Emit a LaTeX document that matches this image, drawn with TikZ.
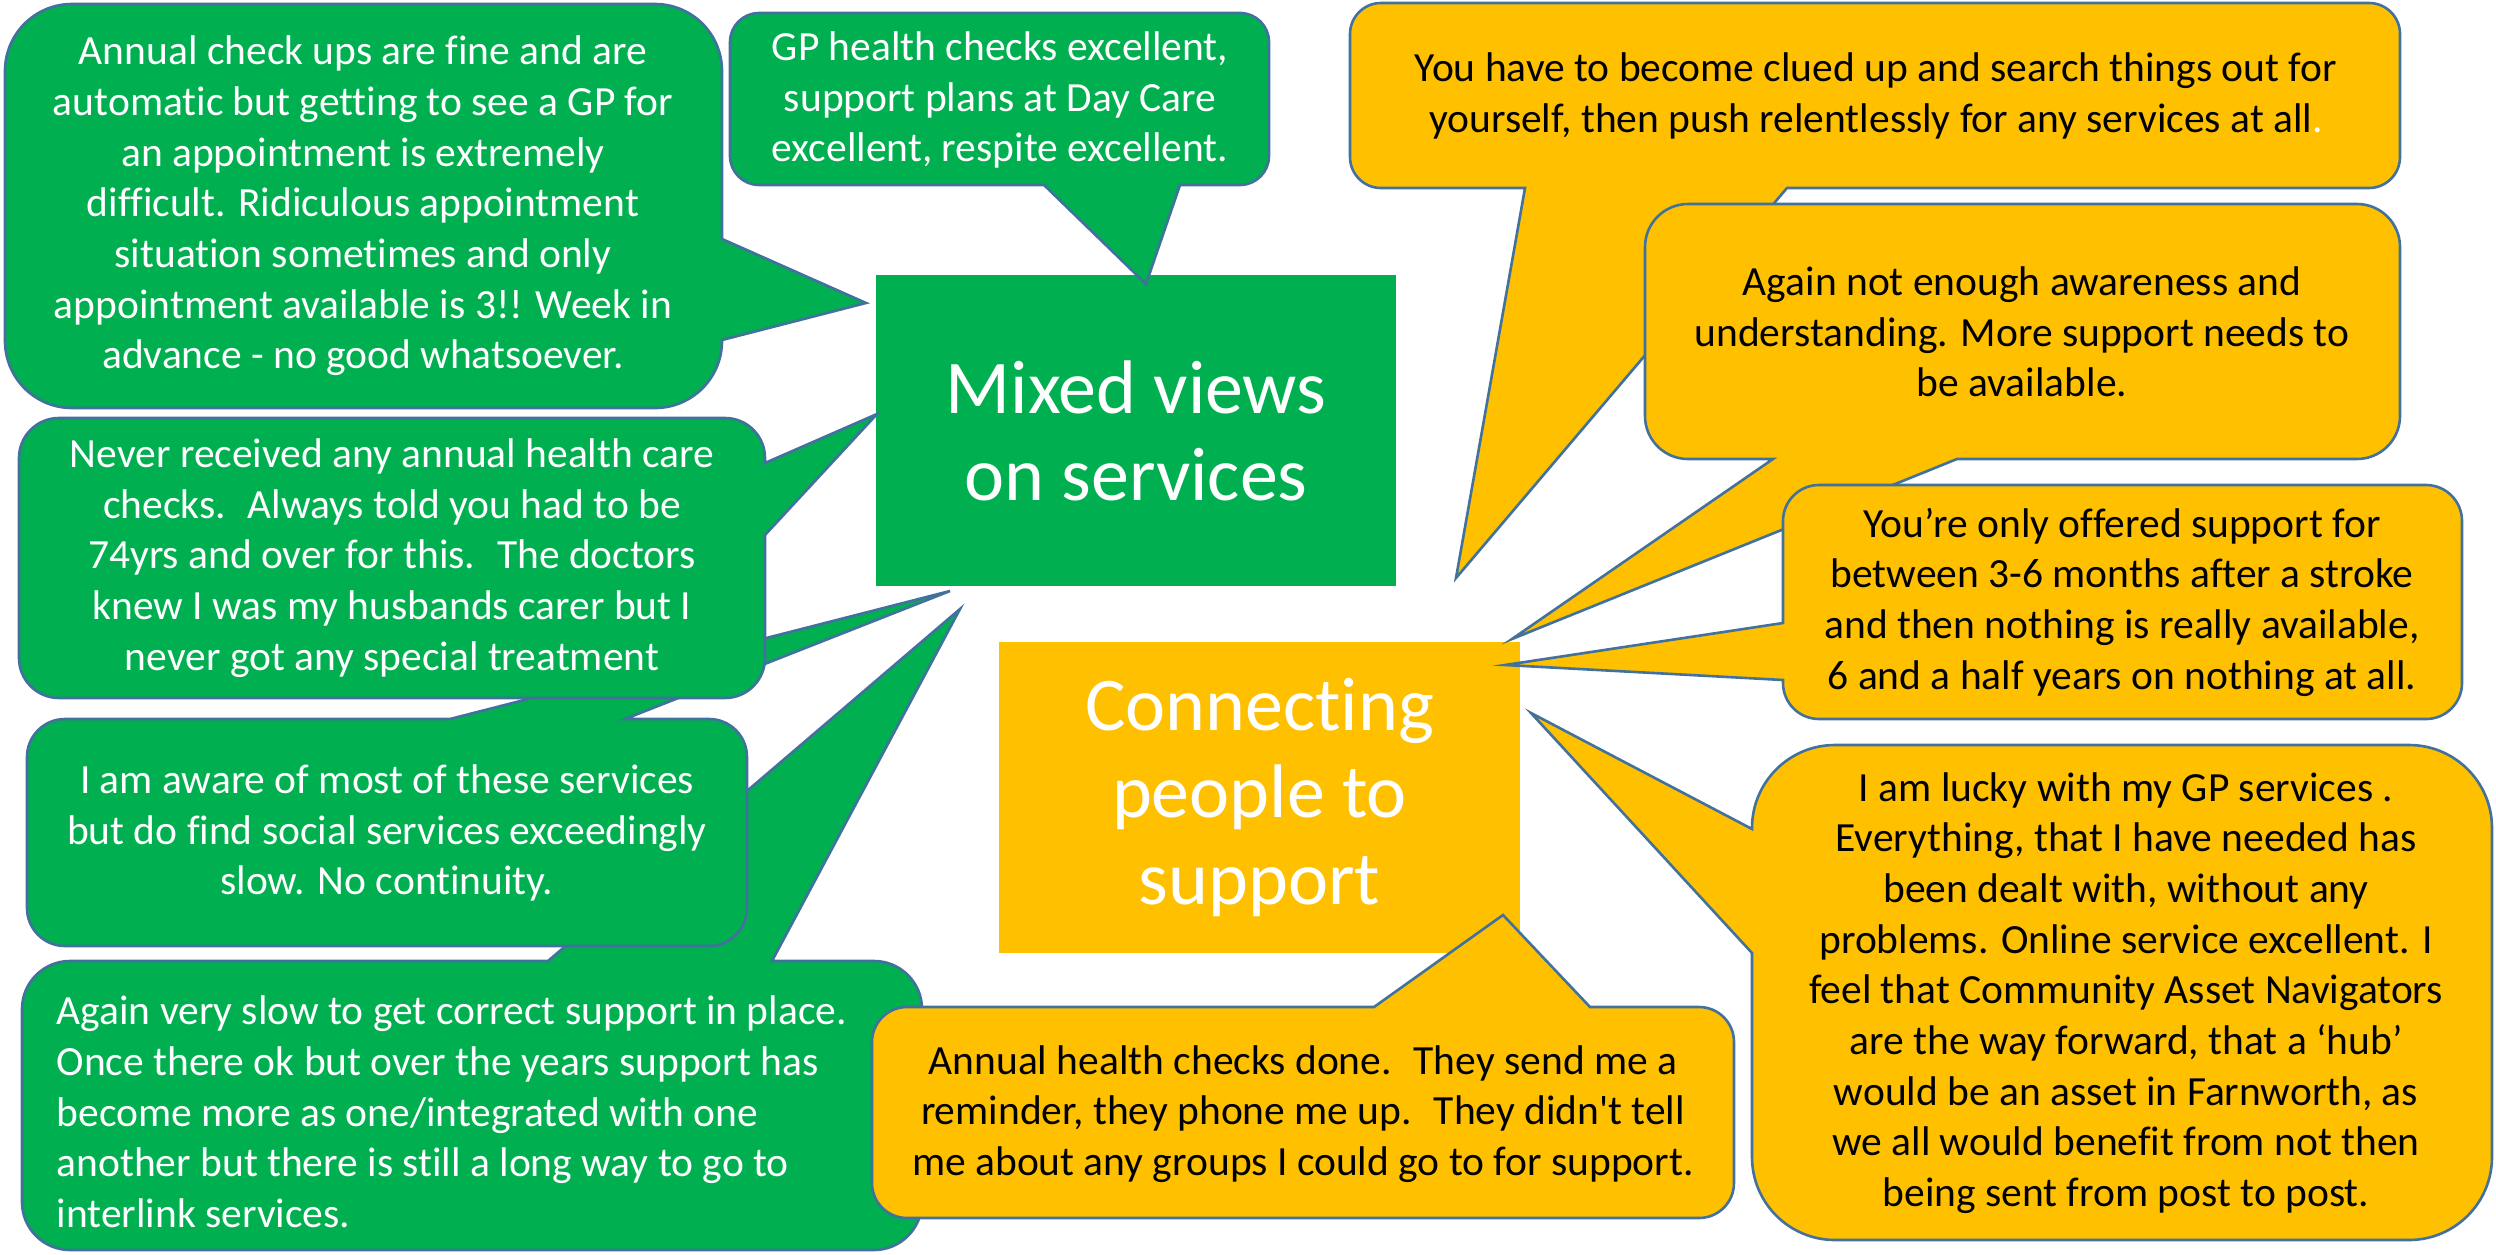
\documentclass[tikz,border=0pt]{standalone}
\usepackage{fontspec}
\setmainfont{Carlito}[Ligatures=NoCommon]
\definecolor{mgreen}{HTML}{00B050}
\definecolor{mgold}{HTML}{FFC000}
\definecolor{edge}{HTML}{41719C}
\tikzset{
  bubble/.style={draw=edge, line width=0.74pt},
  greenbubble/.style={bubble, fill=mgreen},
  goldbubble/.style={bubble, fill=mgold},
  quote/.style={inner sep=0pt, align=center, font=\fontsize{11.8}{14.4}\selectfont},
  bigbox/.style={minimum width=5.2cm, minimum height=3.11cm, inner sep=0pt, align=center,
    text=white, font=\fontsize{21.6}{24.7}\selectfont}
}
\begin{document}
\begin{tikzpicture}[x=0.01cm, y=-0.01cm]
\useasboundingbox (0,0) rectangle (2496,1254);

\node[bigbox, fill=mgreen] (mixed) at (1136,430.5) {Mixed views\\on services};
\node[bigbox, fill=mgold, minimum width=5.21cm] (connect) at (1259.5,797.5) {Connecting\\people to\\support};

% green speech bubbles
\draw[greenbubble] (72,4) -- (655,4) arc[start angle=-90,end angle=0,radius=67] -- (722,239) -- (866,303) -- (722,340)
  -- (722,341) arc[start angle=0,end angle=90,radius=67] -- (72,408) arc[start angle=90,end angle=180,radius=67]
  -- (5,71) arc[start angle=180,end angle=270,radius=67] -- cycle;
\node[quote, text=white] (checkups) at (363,206) {Annual check ups are fine and are\\automatic but getting to see a GP for\\an appointment is extremely\\difficult. Ridiculous appointment\\situation sometimes and only\\appointment available is 3!! Week in\\advance - no good whatsoever.};

\draw[greenbubble] (759,13) -- (1240,13) arc[start angle=-90,end angle=0,radius=29] -- (1269,156)
  arc[start angle=0,end angle=90,radius=29] -- (1180,185) -- (1146,284) -- (1044,185) -- (759,185)
  arc[start angle=90,end angle=180,radius=29] -- (730,42) arc[start angle=180,end angle=270,radius=29] -- cycle;
\node[quote, text=white] (gpchecks) at (1000,100) {GP health checks excellent,\\support plans at Day Care\\excellent, respite excellent.};

\draw[greenbubble] (70,961) -- (548,961) -- (960,609) -- (772,961) -- (874,961) arc[start angle=-90,end angle=0,radius=48]
  -- (922,1202) arc[start angle=0,end angle=90,radius=48] -- (70,1250) arc[start angle=90,end angle=180,radius=48]
  -- (22,1009) arc[start angle=180,end angle=270,radius=48] -- cycle;
\node[quote, text=white, align=left, anchor=west] (veryslow) at (56,1112) {Again very slow to get correct support in place.\\Once there ok but over the years support has\\become more as one/integrated with one\\another but there is still a long way to go to\\interlink services.};

\draw[greenbubble] (65,719) -- (450,719) -- (950,591) -- (625,719) -- (709,719) arc[start angle=-90,end angle=0,radius=38]
  -- (747,908) arc[start angle=0,end angle=90,radius=38] -- (65,946) arc[start angle=90,end angle=180,radius=38]
  -- (27,757) arc[start angle=180,end angle=270,radius=38] -- cycle;
\node[quote, text=white] (aware) at (387,833) {I am aware of most of these services\\but do find social services exceedingly\\slow. No continuity.};

\draw[greenbubble] (59,418) -- (725,418) arc[start angle=-90,end angle=0,radius=40] -- (765,463) -- (877,414) -- (765,535)
  -- (765,658) arc[start angle=0,end angle=90,radius=40] -- (59,698) arc[start angle=90,end angle=180,radius=40]
  -- (19,458) arc[start angle=180,end angle=270,radius=40] -- cycle;
\node[quote, text=white] (neverchecked) at (392,558) {Never received any annual health care\\checks.~ Always told you had to be\\74yrs and over for this.~ The doctors\\knew I was my husbands carer but I\\never got any special treatment};

% gold speech bubbles
\draw[goldbubble] (1381,3) -- (2369,3) arc[start angle=-90,end angle=0,radius=31] -- (2400,157)
  arc[start angle=0,end angle=90,radius=31] -- (1787,188) -- (1456,578) -- (1525,188) -- (1381,188)
  arc[start angle=90,end angle=180,radius=31] -- (1350,34) arc[start angle=180,end angle=270,radius=31] -- cycle;
\node[quote] (cluedup) at (1876,96) {You have to become clued up and search things out for\\yourself, then push relentlessly for any services at all{\color{white}.}};

\draw[goldbubble] (1688,204) -- (2357,204) arc[start angle=-90,end angle=0,radius=43] -- (2400,416)
  arc[start angle=0,end angle=90,radius=43] -- (1957,459) -- (1512,639) -- (1773,459) -- (1688,459)
  arc[start angle=90,end angle=180,radius=43] -- (1645,247) arc[start angle=180,end angle=270,radius=43] -- cycle;
\node[quote] (awareness) at (2022,332) {Again not enough awareness and\\understanding. More support needs to\\be available.};

\draw[goldbubble] (1819,485) -- (2426,485) arc[start angle=-90,end angle=0,radius=36] -- (2462,683)
  arc[start angle=0,end angle=90,radius=36] -- (1819,719) arc[start angle=90,end angle=180,radius=36]
  -- (1783,680) -- (1505,665) -- (1783,623) -- (1783,521) arc[start angle=180,end angle=270,radius=36] -- cycle;
\node[quote] (stroke) at (2122,602) {You’re only offered support for\\between 3-6 months after a stroke\\and then nothing is really available,\\6 and a half years on nothing at all.};

\draw[goldbubble] (1835,745) -- (2409,745) arc[start angle=-90,end angle=0,radius=83] -- (2492,1157)
  arc[start angle=0,end angle=90,radius=83] -- (1835,1240) arc[start angle=90,end angle=180,radius=83]
  -- (1752,953) -- (1531,713) -- (1752,829) -- (1752,828) arc[start angle=180,end angle=270,radius=83] -- cycle;
\node[quote] (lucky) at (2126,993) {I am lucky with my GP services .\\Everything, that I have needed has\\been dealt with, without any\\problems. Online service excellent. I\\feel that Community Asset Navigators\\are the way forward, that a ‘hub’\\would be an asset in Farnworth, as\\we all would benefit from not then\\being sent from post to post.};

\draw[goldbubble] (907,1007) -- (1374,1007) -- (1503,915) -- (1590,1007) -- (1699,1007)
  arc[start angle=-90,end angle=0,radius=35] -- (1734,1183) arc[start angle=0,end angle=90,radius=35] -- (907,1218)
  arc[start angle=90,end angle=180,radius=35] -- (872,1042) arc[start angle=180,end angle=270,radius=35] -- cycle;
\node[quote] (reminder) at (1303,1114) {Annual health checks done.~ They send me a\\reminder, they phone me up.~ They didn{\textquotesingle}t tell\\me about any groups I could go to for support.};

\end{tikzpicture}
\end{document}
